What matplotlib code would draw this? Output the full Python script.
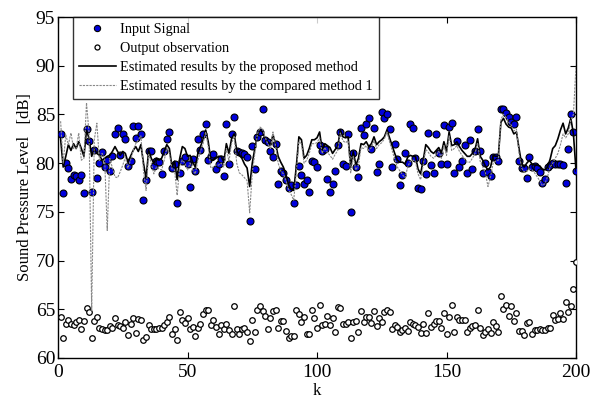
import numpy as np
import matplotlib
matplotlib.use("Agg")
import matplotlib.pyplot as plt

k = list(range(1, 201))

input_signal = [
    83.0, 76.9, 80.0, 79.5, 78.4, 78.8, 78.7, 78.3, 78.8, 76.9,
    83.5, 82.3, 77.0, 81.3, 78.5, 80.0, 81.1, 79.6, 80.3, 79.2,
    80.7, 83.0, 83.6, 80.8, 83.0, 82.5, 79.7, 80.2, 83.8, 82.6,
    83.8, 83.0, 76.2, 78.3, 81.2, 81.2, 79.7, 80.2, 80.1, 78.9,
    81.2, 82.5, 83.2, 79.5, 79.9, 75.9, 79.0, 80.2, 80.6, 79.9,
    77.6, 80.4, 79.2, 82.5, 81.3, 83.0, 84.0, 80.3, 80.7, 80.9,
    79.4, 79.9, 80.4, 78.7, 84.0, 79.9, 83.0, 84.7, 81.2, 81.1,
    81.0, 80.9, 80.6, 74.1, 81.8, 79.4, 82.7, 83.2, 85.55, 82.4,
    82.2, 81.2, 80.6, 82.0, 77.9, 79.2, 79.0, 78.3, 77.5, 77.8,
    75.9, 77.8, 79.7, 78.8, 77.9, 78.3, 77.0, 80.2, 80.1, 79.6,
    81.9, 81.2, 81.5, 78.4, 77.0, 77.9, 79.2, 81.9, 83.2, 79.9,
    79.7, 83.0, 75.0, 81.0, 79.6, 78.6, 83.6, 82.9, 84.0, 84.6,
    81.5, 83.6, 79.1, 79.9, 85.2, 84.6, 85.0, 83.5, 79.6, 82.0,
    80.4, 77.8, 78.8, 81.0, 80.0, 84.0, 83.6, 80.5, 77.5, 77.3,
    80.2, 78.9, 83.1, 79.8, 79.0, 82.95, 81.0, 79.9, 83.9, 79.95,
    83.7, 84.1, 78.95, 82.3, 79.6, 80.2, 81.9, 79.0, 82.4, 79.4,
    81.2, 83.5, 81.2, 78.95, 80.0, 79.1, 78.7, 80.6, 80.6, 80.2,
    85.55, 85.55, 85.1, 84.7, 84.2, 84.0, 84.7, 80.2, 79.5, 79.5,
    78.5, 80.6, 79.6, 79.7, 79.5, 79.1, 78.0, 78.4, 79.6, 79.8,
    80.0, 79.9, 79.9, 79.9, 79.8, 78.0, 81.5, 85.0, 83.2, 79.2,
]

output_obs = [
    64.2, 62.1, 63.5, 63.9, 63.5, 63.4, 63.7, 63.9, 63.0, 63.8,
    65.1, 64.7, 62.1, 63.8, 64.2, 63.1, 63.0, 62.9, 62.9, 63.3,
    63.1, 64.1, 63.4, 63.3, 63.1, 63.7, 62.4, 63.5, 64.1, 62.6,
    64.0, 63.9, 61.8, 62.2, 63.4, 63.0, 63.0, 63.0, 63.1, 63.1,
    63.4, 63.7, 64.2, 62.5, 63.0, 61.8, 64.7, 63.9, 63.6, 64.1,
    63.0, 63.2, 62.3, 63.1, 63.5, 64.5, 64.9, 64.9, 63.4, 63.9,
    63.2, 62.5, 63.4, 63.0, 63.5, 62.9, 62.5, 65.3, 63.0, 62.5,
    63.0, 63.1, 62.7, 61.7, 63.9, 62.7, 64.9, 65.3, 64.8, 64.3,
    63.0, 64.1, 64.8, 64.9, 63.1, 63.8, 63.8, 62.8, 62.1, 62.3,
    62.3, 64.9, 64.5, 63.7, 64.2, 62.5, 62.5, 64.9, 64.1, 63.1,
    65.4, 63.4, 63.5, 64.3, 63.4, 64.1, 62.7, 65.2, 65.1, 63.5,
    63.5, 63.7, 62.1, 63.7, 63.8, 62.7, 64.8, 63.7, 64.2, 64.2,
    63.6, 64.8, 63.3, 64.1, 63.7, 64.7, 64.9, 64.7, 63.0, 63.4,
    63.2, 62.7, 62.9, 63.1, 62.8, 63.7, 63.5, 63.4, 63.2, 62.6,
    63.5, 62.6, 64.6, 63.2, 63.5, 63.8, 63.8, 63.1, 64.6, 62.5,
    64.2, 65.4, 62.7, 64.2, 63.9, 63.9, 63.9, 62.7, 63.1, 63.3,
    63.4, 64.9, 63.1, 62.4, 62.7, 63.0, 62.6, 63.7, 63.3, 62.7,
    66.4, 65.0, 65.4, 64.3, 65.3, 63.8, 64.6, 62.8, 62.8, 62.4,
    63.6, 63.7, 62.5, 62.9, 62.9, 63.0, 62.9, 62.9, 63.1, 63.1,
    64.4, 63.9, 64.0, 64.6, 64.0, 65.7, 64.7, 65.3, 67.1, 69.9,
]

proposed = [
    82.5, 79.6, 80.7, 81.9, 81.3, 82.0, 81.5, 82.2, 81.5, 80.7,
    83.4, 82.5, 80.7, 81.5, 81.0, 80.8, 80.3, 80.5, 80.7, 80.8,
    81.2, 81.7, 81.2, 80.8, 81.2, 81.0, 80.1, 80.7, 81.3, 81.7,
    81.2, 81.9, 80.0, 78.4, 81.3, 80.5, 80.0, 80.5, 80.3, 80.5,
    81.2, 81.9, 81.5, 79.6, 80.2, 78.3, 80.5, 81.7, 81.5, 80.7,
    80.8, 80.1, 79.6, 81.0, 81.7, 82.4, 83.4, 82.2, 80.3, 80.3,
    80.5, 80.7, 80.7, 80.1, 82.0, 81.0, 82.5, 83.0, 81.3, 80.8,
    80.5, 79.9, 79.5, 77.6, 80.0, 81.5, 82.9, 83.4, 83.2, 82.5,
    82.2, 81.9, 82.9, 82.0, 80.7, 80.1, 79.6, 78.8, 77.8, 77.3,
    77.2, 79.6, 82.7, 82.4, 80.5, 80.8, 81.5, 82.4, 82.4, 82.6,
    83.2, 81.3, 82.0, 81.8, 81.6, 81.0, 81.4, 81.7, 83.4, 82.7,
    82.6, 82.7, 79.6, 81.2, 79.8, 80.5, 82.0, 81.9, 82.2, 81.7,
    82.0, 82.7, 81.9, 82.2, 82.4, 82.7, 83.4, 82.6, 81.8, 81.0,
    80.3, 80.1, 80.1, 79.9, 80.6, 80.8, 80.7, 80.7, 79.4, 78.9,
    80.3, 81.9, 81.6, 81.2, 81.0, 81.3, 81.6, 81.0, 82.2, 81.2,
    83.2, 81.8, 81.9, 82.2, 81.7, 81.3, 81.0, 80.7, 80.7, 81.0,
    81.4, 82.5, 80.7, 80.3, 79.7, 79.3, 79.6, 80.8, 80.7, 80.7,
    84.2, 84.6, 84.0, 83.7, 83.6, 83.0, 83.2, 81.5, 79.9, 79.6,
    80.0, 80.3, 79.9, 79.8, 79.8, 79.7, 79.4, 79.3, 79.6, 80.4,
    81.5, 81.8, 82.5, 83.4, 84.1, 83.0, 83.6, 84.6, 83.0, 79.2,
]

compared = [
    84.3, 80.0, 82.9, 81.9, 83.1, 81.5, 81.5, 83.1, 80.3, 80.5,
    86.2, 83.0, 64.9, 82.4, 84.1, 80.2, 81.0, 80.5, 73.1, 80.5,
    79.5, 78.6, 78.5, 79.1, 79.8, 80.6, 79.5, 80.3, 81.3, 82.0,
    82.4, 82.8, 79.2, 77.2, 80.9, 80.0, 78.9, 79.6, 79.4, 79.3,
    80.3, 81.5, 81.0, 79.4, 79.3, 76.7, 79.7, 80.3, 80.0, 79.3,
    80.0, 79.3, 78.9, 80.3, 81.2, 82.0, 83.2, 81.7, 79.5, 79.6,
    79.8, 79.8, 80.0, 79.6, 81.5, 80.2, 82.0, 82.8, 80.0, 79.0,
    78.8, 78.5, 78.2, 74.9, 79.0, 81.0, 83.0, 83.7, 83.5, 82.6,
    82.0, 81.5, 83.2, 81.8, 80.0, 79.2, 78.9, 78.2, 77.3, 76.8,
    76.2, 79.0, 82.2, 82.0, 80.0, 80.3, 81.0, 82.0, 82.0, 82.1,
    82.6, 81.0, 81.6, 81.1, 80.8, 80.4, 80.9, 81.3, 83.1, 82.3,
    82.1, 82.3, 79.0, 80.7, 79.3, 79.8, 81.6, 81.5, 81.8, 81.3,
    81.6, 82.3, 81.5, 81.9, 82.1, 82.5, 83.2, 82.2, 81.3, 80.4,
    79.6, 79.2, 78.8, 78.5, 79.6, 80.2, 80.3, 80.2, 78.9, 78.3,
    79.8, 81.4, 81.1, 80.7, 80.5, 80.8, 81.2, 80.5, 81.8, 80.8,
    82.8, 81.3, 81.5, 81.8, 81.2, 80.8, 80.4, 80.1, 80.1, 80.5,
    81.0, 82.1, 80.2, 79.6, 79.0, 77.6, 78.6, 80.0, 80.2, 80.3,
    84.5, 85.0, 84.7, 84.2, 83.9, 83.3, 83.5, 81.0, 79.5, 79.1,
    79.2, 79.4, 79.3, 79.0, 78.6, 78.2, 77.7, 77.9, 78.6, 79.6,
    80.0, 80.5, 81.0, 81.9, 83.0, 82.6, 83.0, 84.4, 85.0, 90.0,
]

labels = ["Input Signal", "Output observation",
          "Estimated results by the proposed method",
          "Estimated results by the compared method 1"]
xticks = [0, 50, 100, 150, 200]
yticks = [60, 65, 70, 75, 80, 85, 90, 95]

plt.rcParams['font.family'] = ['Liberation Serif', 'DejaVu Serif']
plt.rcParams['mathtext.fontset'] = 'stix'

fig = plt.figure(figsize=(5.92, 4.0), dpi=100)
ax = fig.add_axes([0.098, 0.105, 0.875, 0.8525])

ax.plot(k, input_signal, 'o', color='#0000dd', markeredgecolor='black',
        markeredgewidth=0.8, markersize=5, label=labels[0], zorder=3)
ax.plot(k, output_obs, 'o', color='white', markeredgecolor='black',
        markeredgewidth=0.9, markersize=4.0, label=labels[1], zorder=3)
ax.plot(k, proposed, '-', color='black', linewidth=1.2, label=labels[2], zorder=4)
ax.plot(k, compared, linestyle=(0, (2, 1)), color='#888888', linewidth=0.8,
        label=labels[3], zorder=4)

ax.set_xlim(0, 200)
ax.set_ylim(60, 95)
ax.set_xticks(xticks)
ax.set_yticks(yticks)
ax.tick_params(direction='in', top=True, right=True, labelsize=14,
               length=4, width=0.8)
ax.tick_params(axis='x', pad=4)
ax.tick_params(axis='y', pad=2)
for s in ax.spines.values():
    s.set_linewidth(1.0)
ax.set_xlabel('k', fontsize=12, labelpad=2)
ax.set_ylabel('Sound Pressure Level   [dB]', fontsize=12, labelpad=2)

leg = ax.legend(loc='upper left', bbox_to_anchor=(0.028, 1.0), fontsize=10.3,
                frameon=True, fancybox=False, edgecolor='black',
                borderaxespad=0.0, handlelength=2.6, handletextpad=0.3,
                labelspacing=0.42, borderpad=0.42, markerscale=0.9)
leg.get_frame().set_linewidth(1.0)

fig.savefig('out.png', dpi=100)
